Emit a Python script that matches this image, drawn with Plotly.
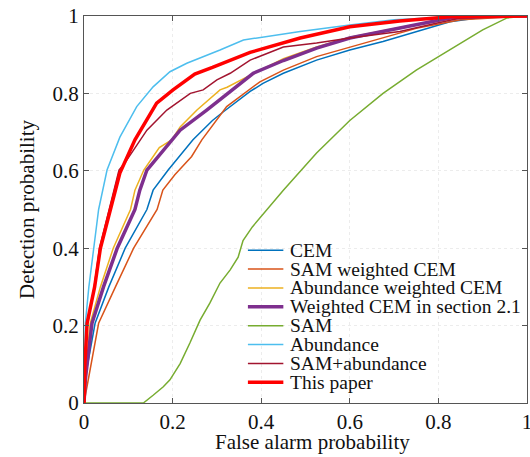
import plotly.graph_objects as go

# ---- data ----
cem_fa = [0, 0.005, 0.025, 0.056, 0.093, 0.142, 0.156, 0.19, 0.246, 0.29, 0.314, 0.352, 0.375, 0.404, 0.45, 0.525, 0.6, 0.675, 0.75, 0.826, 0.9, 1]
cem_pd = [0, 0.08, 0.206, 0.30, 0.40, 0.50, 0.55, 0.602, 0.68, 0.73, 0.752, 0.785, 0.805, 0.826, 0.852, 0.886, 0.912, 0.934, 0.96, 0.985, 0.997, 1]

samw_fa = [0, 0.01, 0.023, 0.033, 0.071, 0.112, 0.165, 0.178, 0.205, 0.243, 0.266, 0.322, 0.397, 0.45, 0.525, 0.6, 0.675, 0.75, 0.85, 1]
samw_pd = [0, 0.06, 0.145, 0.206, 0.30, 0.40, 0.50, 0.55, 0.59, 0.637, 0.68, 0.766, 0.83, 0.86, 0.895, 0.92, 0.945, 0.968, 0.99, 1]

abw_fa = [0, 0.003, 0.014, 0.037, 0.066, 0.105, 0.115, 0.135, 0.17, 0.198, 0.217, 0.255, 0.307, 0.323, 0.38, 0.45, 0.525, 0.6, 0.713, 0.826, 1]
abw_pd = [0, 0.08, 0.206, 0.30, 0.40, 0.50, 0.55, 0.602, 0.66, 0.68, 0.713, 0.757, 0.809, 0.816, 0.85, 0.89, 0.92, 0.945, 0.97, 0.995, 1]

wcem_fa = [0, 0.003, 0.007, 0.018, 0.044, 0.075, 0.115, 0.126, 0.142, 0.18, 0.205, 0.217, 0.277, 0.33, 0.382, 0.45, 0.525, 0.6, 0.713, 0.826, 0.9, 1]
wcem_pd = [0, 0.06, 0.10, 0.206, 0.30, 0.40, 0.50, 0.55, 0.602, 0.654, 0.687, 0.705, 0.757, 0.805, 0.852, 0.885, 0.917, 0.943, 0.969, 0.995, 0.999, 1]

sam_fa = [0, 0.134, 0.156, 0.179, 0.194, 0.217, 0.239, 0.262, 0.284, 0.307, 0.33, 0.348, 0.359, 0.38, 0.45, 0.525, 0.6, 0.675, 0.75, 0.826, 0.90, 0.955, 1]
sam_pd = [0, 0, 0.02, 0.042, 0.06, 0.102, 0.155, 0.214, 0.258, 0.31, 0.344, 0.377, 0.42, 0.455, 0.55, 0.646, 0.73, 0.80, 0.86, 0.912, 0.964, 0.995, 1]

ab_fa = [0, 0.001, 0.003, 0.011, 0.022, 0.033, 0.052, 0.066, 0.081, 0.119, 0.156, 0.194, 0.232, 0.307, 0.36, 0.488, 0.6, 0.7, 0.8, 0.9, 1]
ab_pd = [0, 0.12, 0.206, 0.30, 0.40, 0.50, 0.602, 0.645, 0.687, 0.766, 0.817, 0.856, 0.878, 0.912, 0.938, 0.96, 0.977, 0.99, 0.996, 0.999, 1]

samab_fa = [0, 0.002, 0.008, 0.023, 0.035, 0.057, 0.079, 0.092, 0.142, 0.187, 0.24, 0.269, 0.30, 0.33, 0.375, 0.45, 0.525, 0.6, 0.713, 0.79, 0.85, 1]
samab_pd = [0, 0.10, 0.206, 0.30, 0.40, 0.50, 0.602, 0.62, 0.705, 0.757, 0.80, 0.809, 0.835, 0.852, 0.886, 0.92, 0.93, 0.943, 0.96, 0.98, 0.995, 1]

ours_fa = [0, 0.002, 0.007, 0.024, 0.037, 0.059, 0.081, 0.115, 0.164, 0.201, 0.25, 0.29, 0.375, 0.488, 0.6, 0.713, 0.826, 1]
ours_pd = [0, 0.10, 0.206, 0.30, 0.40, 0.50, 0.594, 0.68, 0.775, 0.809, 0.85, 0.867, 0.906, 0.943, 0.972, 0.987, 0.998, 1]

names = ["CEM", "SAM weighted CEM", "Abundance weighted CEM", "Weighted CEM in section 2.1",
         "SAM", "Abundance", "SAM+abundance", "This paper"]
colors = ["#0072BD", "#D95319", "#EDB120", "#7E2F8E", "#77AC30", "#4DBEEE", "#A2142F", "#FF0000"]
widths = [1.5, 1.5, 1.5, 3.5, 1.5, 1.5, 1.5, 3.5]
series = [(cem_fa, cem_pd), (samw_fa, samw_pd), (abw_fa, abw_pd), (wcem_fa, wcem_pd),
          (sam_fa, sam_pd), (ab_fa, ab_pd), (samab_fa, samab_pd), (ours_fa, ours_pd)]

tick_vals = [0, 0.2, 0.4, 0.6, 0.8, 1]
tick_text = ["0", "0.2", "0.4", "0.6", "0.8", "1"]

FONT = "Liberation Serif, Times New Roman, DejaVu Serif, serif"

fig = go.Figure()
for (fa, pd_), name, c, w in zip(series, names, colors, widths):
    fig.add_trace(go.Scatter(x=fa, y=pd_, mode="lines", name=name,
                             line=dict(color=c, width=w), showlegend=False))

# custom compact legend (MATLAB style)
leg_x0, leg_x1, txt_x = 0.370, 0.450, 0.460
leg_top, leg_step = 0.395, 0.0488
for i, (name, c, w) in enumerate(zip(names, colors, widths)):
    yy = leg_top - i * leg_step
    fig.add_shape(type="line", xref="paper", yref="paper", x0=leg_x0, x1=leg_x1, y0=yy, y1=yy,
                  line=dict(color=c, width=w))
    fig.add_annotation(xref="paper", yref="paper", x=txt_x, y=yy, text=name, showarrow=False,
                       xanchor="left", yanchor="middle", font=dict(family=FONT, size=19.5, color="#111"))

# x-axis title
fig.add_annotation(xref="paper", yref="paper", x=0.516, y=0, yanchor="top", yshift=-25,
                   text="False alarm probability", showarrow=False,
                   font=dict(family=FONT, size=21, color="#111"))

axis_common = dict(range=[0, 1], tickvals=tick_vals, ticktext=tick_text, ticks="inside", ticklen=5,
                   tickcolor="#555", showline=True, linecolor="#555", linewidth=1, mirror="ticks",
                   showgrid=True, gridcolor="#ececec", griddash="dot", zeroline=False,
                   ticklabeloverflow="allow",
                   tickfont=dict(family=FONT, size=21, color="#111"))

fig.update_xaxes(**axis_common)
fig.update_yaxes(**axis_common, title=dict(text="Detection probability", standoff=12,
                                           font=dict(family=FONT, size=21, color="#111")))

fig.update_layout(width=530, height=457, margin=dict(l=84, r=3, t=16, b=54, autoexpand=False),
                  plot_bgcolor="white", paper_bgcolor="white", showlegend=False)

fig.write_html("out.html", config={"displayModeBar": False},
               post_script="document.body.style.margin='0px';document.body.style.overflow='hidden';")
